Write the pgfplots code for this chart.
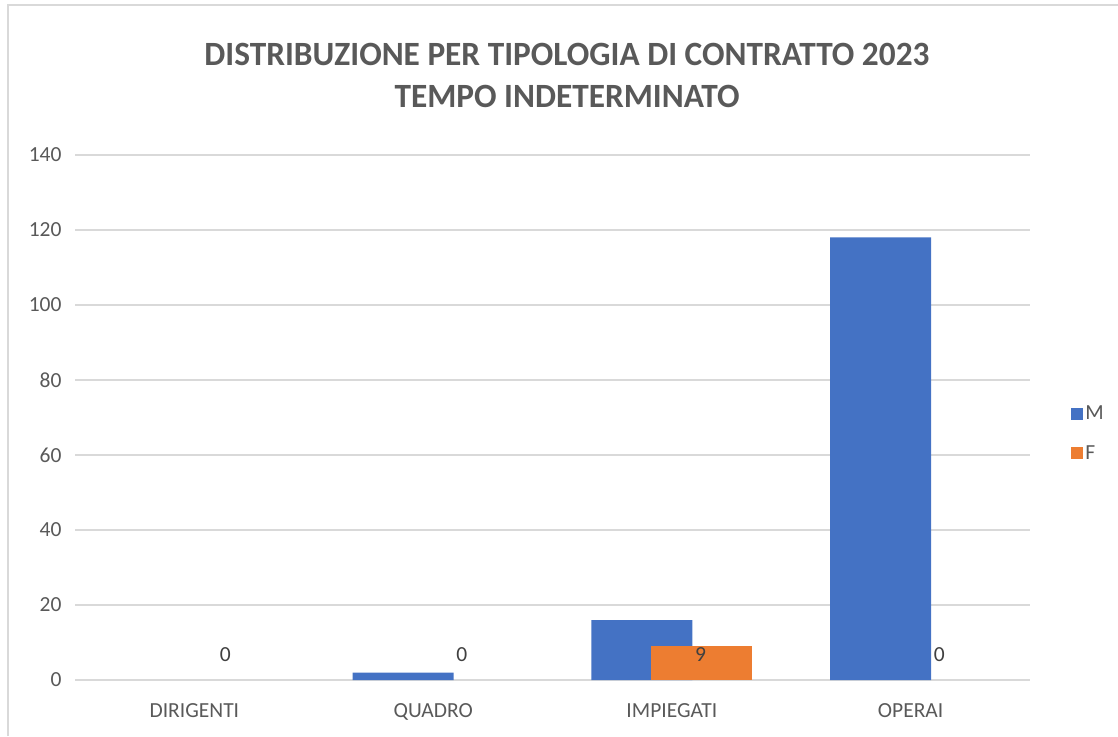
\documentclass[border=0pt]{standalone}
\usepackage{pgfplots}
\pgfplotsset{compat=1.18}
\usepackage{fontspec}
\setmainfont{Carlito}
\definecolor{mblue}{HTML}{4472C4}
\definecolor{forange}{HTML}{ED7D31}
\definecolor{txtgray}{HTML}{595959}
\definecolor{gridgray}{HTML}{D9D9D9}
\begin{document}
\begin{tikzpicture}
\useasboundingbox (0,0) rectangle (1118pt,736pt);
\draw[gridgray, line width=2pt] (8pt,0) -- (8pt,731pt) -- (1118pt,731pt);
\node[txtgray, font=\fontsize{34}{40}\selectfont\bfseries] at (567pt,682pt) {\scalebox{0.98}[1]{DISTRIBUZIONE PER TIPOLOGIA DI CONTRATTO 2023}};
\node[txtgray, font=\fontsize{34}{40}\selectfont\bfseries] at (567pt,640pt) {\scalebox{0.98}[1]{TEMPO INDETERMINATO}};
\begin{axis}[
  at={(75pt,56pt)}, anchor=south west,
  scale only axis, width=955pt, height=525pt,
  xmin=-0.5, xmax=3.5, ymin=0, ymax=140,
  ytick={0,20,...,140},
  xtick={0,1,2,3},
  xticklabels={DIRIGENTI,QUADRO,IMPIEGATI,OPERAI},
  /pgf/number format/assume math mode=true,
  ticklabel style={font=\fontsize{21.5}{24}\selectfont, text=txtgray},
  yticklabel style={xshift=-10pt},
  xticklabel style={yshift=-20pt},
  axis line style={draw=none},
  major tick length=0pt,
  ymajorgrids, grid style={gridgray, line width=1.6pt},
  extra y ticks={0}, extra y tick labels={},
  extra y tick style={grid style={gridgray, line width=2pt}},
  ybar, bar width=0.423,
  legend style={draw=none, fill=none, at={(1.04,0.47)}, anchor=west, font=\fontsize{21.5}{24}\selectfont, text=txtgray, row sep=20pt, /tikz/every even column/.append style={column sep=3pt}},
  legend cell align=left,
  legend image code/.code={\fill[#1] (0pt,-6pt) rectangle (12pt,6pt);},
]
\addplot[fill=mblue, draw=none, bar shift=-0.126] coordinates {(1,2) (2,16) (3,118)};
\addlegendentry{M}
\addplot[fill=forange, draw=none, bar shift=0.126] coordinates {(2,9)};
\addlegendentry{F}
\addplot[draw=none, only marks, mark=none, forget plot, bar shift=0pt, nodes near coords, point meta=explicit symbolic,
  every node near coord/.append style={anchor=center, text=black!75, font=\fontsize{21.5}{24}\selectfont}]
  coordinates {(0.13,6.7)[0] (1.12,6.7)[0] (2.12,6.7)[9] (3.12,6.7)[0]};
\end{axis}
\end{tikzpicture}
\end{document}
